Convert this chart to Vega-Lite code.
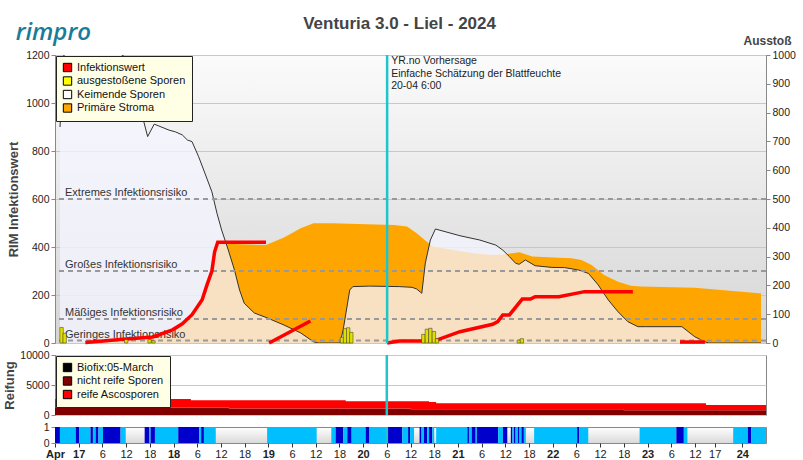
{
  "$schema": "https://vega.github.io/schema/vega-lite/v6.json",
  "background": "white",
  "padding": {"left": 3, "top": 14, "right": 5, "bottom": 0},
  "bounds": "flush",
  "spacing": 12,
  "config": {
    "font": "Liberation Sans",
    "view": {"stroke": "#888"},
    "axis": {"labelFontSize": 10.5, "labelColor": "#222", "domainColor": "#888", "tickColor": "#888", "titleFontSize": 13, "titleFontWeight": "bold", "titleColor": "#444", "gridColor": "#c8c8c8", "tickSize": 4, "format": "d"},
    "axisX": {"labelOverlap": false, "labelFlush": false}
  },
  "title": {"text": "Venturia 3.0 - Liel - 2024", "fontSize": 17, "fontWeight": "bold", "color": "#444", "anchor": "middle", "dy": 16},
  "resolve": {"scale": {"color": "independent"}, "legend": {"color": "independent"}},
  "datasets": {
    "keim": [
      {"h":0,"v":900},{"h":1,"v":1200},{"h":11,"v":1250},{"h":20.8,"v":1150},{"h":21.3,"v":936},{"h":22.5,"v":860},{"h":24.2,"v":912},{"h":28,"v":887},{"h":29.6,"v":880},{"h":31.4,"v":867},{"h":32.7,"v":846},{"h":33.9,"v":839},{"h":35.6,"v":776},{"h":37.2,"v":708},{"h":39,"v":630},{"h":40.3,"v":541},{"h":41.5,"v":471},{"h":43.2,"v":388},{"h":44.8,"v":304},{"h":46.1,"v":221},{"h":47.3,"v":166},{"h":49.9,"v":125},{"h":53.3,"v":104},{"h":57.5,"v":75},{"h":61.8,"v":42},{"h":65.1,"v":5},{"h":66.3,"v":0},{"h":71.9,"v":0},{"h":72.7,"v":54},{"h":74.4,"v":221},{"h":75.2,"v":235},{"h":79.5,"v":237},{"h":87.1,"v":235},{"h":90.4,"v":232},{"h":91.6,"v":225},{"h":92.6,"v":211},{"h":92.9,"v":207},{"h":93.8,"v":333},{"h":95.1,"v":429},{"h":96.4,"v":475},{"h":102.7,"v":447},{"h":107.8,"v":429},{"h":111.9,"v":408},{"h":113.7,"v":387},{"h":115.4,"v":360},{"h":117,"v":332},{"h":117.9,"v":328},{"h":119.5,"v":346},{"h":122,"v":322},{"h":126.3,"v":315},{"h":129.6,"v":314},{"h":133.2,"v":304},{"h":135.7,"v":290},{"h":138.2,"v":242},{"h":140.8,"v":179},{"h":143.3,"v":130},{"h":145.8,"v":89},{"h":148.4,"v":68},{"h":150.4,"v":68},{"h":159.7,"v":68},{"h":163,"v":26},{"h":165.6,"v":5},{"h":166.6,"v":0},{"h":180,"v":0}
    ],
    "stroma": [
      {"h":6,"v":0},{"h":6.5,"v":3},{"h":11.1,"v":8},{"h":15.4,"v":15},{"h":23.8,"v":25},{"h":28.9,"v":55},{"h":31.4,"v":80},{"h":33.9,"v":118},{"h":36.5,"v":180},{"h":37.7,"v":240},{"h":39,"v":300},{"h":39.7,"v":380},{"h":40.5,"v":415},{"h":52.9,"v":408},{"h":57.5,"v":440},{"h":61.8,"v":478},{"h":65.1,"v":499},{"h":70.1,"v":499},{"h":78.7,"v":495},{"h":85.8,"v":492},{"h":89.1,"v":485},{"h":91.6,"v":457},{"h":94.2,"v":422},{"h":95.9,"v":401},{"h":101,"v":387},{"h":106.1,"v":374},{"h":111.1,"v":367},{"h":114.4,"v":370},{"h":116.2,"v":374},{"h":118,"v":378},{"h":119.5,"v":370},{"h":121.3,"v":360},{"h":128.1,"v":355},{"h":131.4,"v":353},{"h":133.9,"v":346},{"h":136.5,"v":325},{"h":139.7,"v":283},{"h":143.3,"v":255},{"h":146.6,"v":239},{"h":149.1,"v":235},{"h":163,"v":230},{"h":179.5,"v":207},{"h":180,"v":207}
    ],
    "infekt": [
      {"seg":1,"h":6.5,"v":2},{"seg":1,"h":11.1,"v":8},{"seg":1,"h":15.4,"v":15},{"seg":1,"h":23.8,"v":25},{"seg":1,"h":28.9,"v":55},{"seg":1,"h":31.4,"v":80},{"seg":1,"h":33.9,"v":118},{"seg":1,"h":36.5,"v":180},{"seg":1,"h":37.7,"v":240},{"seg":1,"h":39,"v":300},{"seg":1,"h":39.7,"v":380},{"seg":1,"h":40.5,"v":420},{"seg":1,"h":52.9,"v":420},
      {"seg":2,"h":53.7,"v":0},{"seg":2,"h":64.3,"v":92},
      {"seg":3,"h":84,"v":0},{"seg":3,"h":87.1,"v":8},{"seg":3,"h":96,"v":8},{"seg":3,"h":102.7,"v":47},{"seg":3,"h":111.1,"v":78},{"seg":3,"h":112.4,"v":89},{"seg":3,"h":113.7,"v":117},{"seg":3,"h":115.4,"v":117},{"seg":3,"h":118.7,"v":183},{"seg":3,"h":120.8,"v":183},{"seg":3,"h":122,"v":193},{"seg":3,"h":128.1,"v":193},{"seg":3,"h":134.7,"v":214},{"seg":3,"h":147.1,"v":214},
      {"seg":4,"h":159.2,"v":4},{"seg":4,"h":165.6,"v":4}
    ],
    "sporen": [
      {"h":0.4,"v":54},{"h":1.2,"v":34},{"h":17,"v":12},{"h":23,"v":12},{"h":24,"v":8},{"h":72.4,"v":20},{"h":73.2,"v":50},{"h":74,"v":53},{"h":74.8,"v":37},{"h":93.3,"v":30},{"h":94.2,"v":48},{"h":95.1,"v":51},{"h":96,"v":40},{"h":96.8,"v":15},{"h":117.8,"v":10},{"h":118.6,"v":15}
    ],
    "risiko": [
      {"v":10,"label":"Geringes Infektionsrisiko"},{"v":100,"label":"Mäßiges Infektionsrisiko"},{"v":300,"label":"Großes Infektionsrisiko"},{"v":600,"label":"Extremes Infektionsrisiko"}
    ],
    "reifung": [
      {"h":0,"typ":"nicht reife Sporen","v":1250},{"h":34.4,"typ":"nicht reife Sporen","v":1250},{"h":44,"typ":"nicht reife Sporen","v":1080},{"h":73.6,"typ":"nicht reife Sporen","v":1080},{"h":90,"typ":"nicht reife Sporen","v":950},{"h":94.7,"typ":"nicht reife Sporen","v":950},{"h":96.5,"typ":"nicht reife Sporen","v":950},{"h":144,"typ":"nicht reife Sporen","v":780},{"h":164.8,"typ":"nicht reife Sporen","v":780},{"h":180,"typ":"nicht reife Sporen","v":780},
      {"h":0,"typ":"reife Ascosporen","v":1400},{"h":34.4,"typ":"reife Ascosporen","v":1200},{"h":44,"typ":"reife Ascosporen","v":1370},{"h":73.6,"typ":"reife Ascosporen","v":1220},{"h":90,"typ":"reife Ascosporen","v":1350},{"h":94.7,"typ":"reife Ascosporen","v":1200},{"h":96.5,"typ":"reife Ascosporen","v":1000},{"h":144,"typ":"reife Ascosporen","v":1170},{"h":164.8,"typ":"reife Ascosporen","v":890},{"h":180,"typ":"reife Ascosporen","v":890}
    ],
    "blatt": [
      {"a":0,"b":1.25,"c":"Regen"},{"a":1.25,"b":5.25,"c":"Blattnässe"},{"a":5.25,"b":6.1,"c":"Regen"},{"a":6.1,"b":9,"c":"Blattnässe"},{"a":9,"b":9.6,"c":"Regen"},{"a":9.6,"b":10.3,"c":"Blattnässe"},{"a":10.3,"b":11,"c":"Regen"},{"a":11,"b":12.15,"c":"Blattnässe"},{"a":12.15,"b":16.6,"c":"Regen"},{"a":16.6,"b":17.9,"c":"Blattnässe"},
      {"a":22.7,"b":23.8,"c":"Regen"},{"a":23.8,"b":24.2,"c":"Blattnässe"},{"a":24.2,"b":25.3,"c":"Regen"},{"a":25.3,"b":31.2,"c":"Blattnässe"},{"a":31.2,"b":36.5,"c":"Regen"},{"a":36.5,"b":37,"c":"Blattnässe"},{"a":37,"b":37.7,"c":"Regen"},{"a":37.7,"b":40.7,"c":"Blattnässe"},
      {"a":53.7,"b":66.25,"c":"Blattnässe"},{"a":69.95,"b":71.05,"c":"Blattnässe"},{"a":71.05,"b":73,"c":"Regen"},{"a":73,"b":74,"c":"Blattnässe"},{"a":74,"b":75.1,"c":"Regen"},{"a":75.1,"b":78.65,"c":"Blattnässe"},{"a":78.65,"b":79.5,"c":"Regen"},{"a":79.5,"b":84.3,"c":"Blattnässe"},{"a":84.3,"b":87.9,"c":"Regen"},{"a":87.9,"b":89.4,"c":"Blattnässe"},{"a":89.4,"b":89.9,"c":"Regen"},{"a":89.9,"b":90.9,"c":"Blattnässe"},
      {"a":92.3,"b":92.8,"c":"Regen"},{"a":92.8,"b":93.4,"c":"Blattnässe"},{"a":93.4,"b":94.25,"c":"Regen"},{"a":94.25,"b":94.7,"c":"Blattnässe"},{"a":94.7,"b":95.5,"c":"Regen"},{"a":95.5,"b":96,"c":"Blattnässe"},
      {"a":96.5,"b":104.4,"c":"Blattnässe"},{"a":104.4,"b":104.8,"c":"Regen"},{"a":104.8,"b":105.5,"c":"Blattnässe"},{"a":105.5,"b":106.5,"c":"Regen"},{"a":106.5,"b":106.8,"c":"Blattnässe"},{"a":106.8,"b":112.2,"c":"Regen"},{"a":112.2,"b":113.4,"c":"Blattnässe"},{"a":113.4,"b":114.5,"c":"Regen"},
      {"a":115.4,"b":115.8,"c":"Regen"},{"a":115.8,"b":116.2,"c":"Blattnässe"},{"a":116.2,"b":116.6,"c":"Regen"},{"a":116.6,"b":117.2,"c":"Blattnässe"},{"a":117.2,"b":117.6,"c":"Regen"},{"a":117.6,"b":118.1,"c":"Blattnässe"},{"a":118.1,"b":118.7,"c":"Regen"},{"a":118.7,"b":119.2,"c":"Blattnässe"},
      {"a":121.3,"b":132.2,"c":"Blattnässe"},{"a":132.2,"b":132.7,"c":"Regen"},{"a":132.7,"b":135,"c":"Blattnässe"},
      {"a":148,"b":157.3,"c":"Blattnässe"},{"a":157.3,"b":159.2,"c":"Regen"},{"a":159.2,"b":160.1,"c":"Blattnässe"},
      {"a":171.7,"b":175.4,"c":"Blattnässe"},{"a":175.4,"b":176.3,"c":"Regen"},{"a":176.3,"b":180,"c":"Blattnässe"}
    ]
  },
  "vconcat": [
    {
      "width": 711,
      "height": 288,
      "title": {"text": "rimpro", "anchor": "start", "frame": "bounds", "fontSize": 24, "font": "Open Sans", "fontWeight": 600, "fontStyle": "italic", "color": "#1b7c99", "offset": 0, "dy": 11, "dx": 8},
      "view": {"fill": {"gradient": "linear", "x1": 0, "y1": 0, "x2": 0, "y2": 1, "stops": [{"offset": 0, "color": "#fbfbfb"}, {"offset": 1, "color": "#d5d5d5"}]}, "stroke": "#888"},
      "layer": [
        {
          "layer": [
            {
              "data": {"name": "stroma"},
              "mark": {"type": "area", "color": "#ffa500"},
              "encoding": {
                "x": {"field": "h", "type": "quantitative", "scale": {"domain": [0, 180]}, "axis": null},
                "y": {"field": "v", "type": "quantitative", "scale": {"domain": [0, 1200]}, "axis": {"title": "RIM Infektionswert", "orient": "left", "values": [0,100,200,300,400,500,600,700,800,900,1000,1100,1200], "grid": true, "titlePadding": 5}}
              }
            },
            {
              "data": {"name": "keim"},
              "mark": {"type": "area", "color": "#f5f5ff", "opacity": 0.76, "clip": true},
              "encoding": {
                "x": {"field": "h", "type": "quantitative", "scale": {"domain": [0, 180]}, "axis": null},
                "y": {"field": "v", "type": "quantitative", "scale": {"domain": [0, 1200]}}
              }
            },
            {
              "data": {"name": "keim"},
              "mark": {"type": "line", "color": "#333", "strokeWidth": 1, "clip": true},
              "encoding": {
                "x": {"field": "h", "type": "quantitative", "scale": {"domain": [0, 180]}, "axis": null},
                "y": {"field": "v", "type": "quantitative", "scale": {"domain": [0, 1200]}}
              }
            },
            {
              "data": {"name": "risiko"},
              "mark": {"type": "rule", "color": "#999", "strokeWidth": 2, "strokeDash": [5, 4]},
              "encoding": {
                "y": {"field": "v", "type": "quantitative", "scale": {"domain": [0, 1200]}}
              }
            },
            {
              "data": {"name": "risiko"},
              "mark": {"type": "text", "align": "left", "baseline": "alphabetic", "dx": 5, "dy": -3, "fontSize": 11, "color": "#333"},
              "encoding": {
                "x": {"datum": 0, "scale": {"domain": [0, 180]}, "axis": null},
                "y": {"field": "v", "type": "quantitative", "scale": {"domain": [0, 1200]}},
                "text": {"field": "label"}
              }
            },
            {
              "data": {"name": "infekt"},
              "mark": {"type": "line", "color": "#ff0000", "strokeWidth": 3.5},
              "encoding": {
                "x": {"field": "h", "type": "quantitative", "scale": {"domain": [0, 180]}, "axis": null},
                "y": {"field": "v", "type": "quantitative", "scale": {"domain": [0, 1200]}},
                "detail": {"field": "seg"}
              }
            },
            {
              "data": {"values": [{"text": "YR.no Vorhersage\nEinfache Schätzung der Blattfeuchte\n20-04 6:00"}]},
              "mark": {"type": "text", "align": "left", "baseline": "top", "dx": 4, "dy": 1, "fontSize": 10.5, "lineHeight": 12.5, "lineBreak": "\n", "color": "#222"},
              "encoding": {
                "x": {"datum": 84, "scale": {"domain": [0, 180]}, "axis": null},
                "y": {"datum": 1200, "scale": {"domain": [0, 1200]}},
                "text": {"field": "text"}
              }
            },
            {
              "data": {"values": [{"s": "Infektionswert"}, {"s": "ausgestoßene Sporen"}, {"s": "Keimende Sporen"}, {"s": "Primäre Stroma"}]},
              "mark": {"type": "square", "clip": true, "size": 70, "opacity": 1, "stroke": "#000", "strokeWidth": 1},
              "encoding": {
                "x": {"datum": -50, "scale": {"domain": [0, 180]}, "axis": null},
                "y": {"datum": 0, "scale": {"domain": [0, 1200]}},
                "color": {"field": "s", "type": "nominal", "scale": {"domain": ["Infektionswert", "ausgestoßene Sporen", "Keimende Sporen", "Primäre Stroma"], "range": ["#ff0000", "#ffff00", "#ffffff", "#ffa500"]},
                  "legend": {"title": null, "orient": "top-left", "offset": 1, "fillColor": "#ffffe6", "strokeColor": "#222", "padding": 6, "labelFontSize": 11, "labelColor": "#111", "symbolType": "square", "symbolSize": 70, "symbolStrokeColor": "#000", "symbolStrokeWidth": 1, "rowPadding": 0.5, "labelOffset": 4}}
              }
            }
          ]
        },
        {
          "layer": [
            {
              "data": {"name": "sporen"},
              "mark": {"type": "bar", "size": 3.4, "color": "#e0e000", "stroke": "#333", "strokeWidth": 0.5},
              "encoding": {
                "x": {"field": "h", "type": "quantitative", "scale": {"domain": [0, 180]}, "axis": null},
                "y": {"field": "v", "type": "quantitative", "scale": {"domain": [0, 1000]}, "axis": {"orient": "right", "title": "Ausstoß", "values": [0,100,200,300,400,500,600,700,800,900,1000], "grid": false, "titleAngle": 0, "titleX": 25, "titleY": -8, "titleAlign": "right", "titleBaseline": "bottom", "titleFontSize": 12}}
              }
            },
            {
              "data": {"values": [{"h": 84}]},
              "mark": {"type": "rule", "color": "#20c5cc", "strokeWidth": 2.5},
              "encoding": {
                "x": {"field": "h", "type": "quantitative", "scale": {"domain": [0, 180]}, "axis": null}
              }
            }
          ]
        }
      ],
      "resolve": {"scale": {"y": "independent"}}
    },
    {
      "width": 711,
      "height": 60,
      "view": {"fill": "white", "stroke": "#888"},
      "layer": [
        {
          "data": {"name": "reifung"},
          "mark": {"type": "area", "interpolate": "step-after"},
          "encoding": {
            "x": {"field": "h", "type": "quantitative", "scale": {"domain": [0, 180]}, "axis": null},
            "y": {"field": "v", "type": "quantitative", "stack": "zero", "scale": {"domain": [0, 10000]}, "axis": {"title": "Reifung", "values": [0, 5000, 10000], "grid": true, "titlePadding": 3}},
            "order": {"field": "typ", "sort": "ascending"},
            "color": {"field": "typ", "type": "nominal", "scale": {"domain": ["Biofix:05-March", "nicht reife Sporen", "reife Ascosporen"], "range": ["#000000", "#800000", "#ff0000"]},
              "legend": {"title": null, "orient": "top-left", "offset": 1, "fillColor": "#ffffe6", "strokeColor": "#222", "padding": 6, "labelFontSize": 11, "labelColor": "#111", "symbolType": "square", "symbolSize": 70, "symbolStrokeColor": "#000", "symbolStrokeWidth": 1, "rowPadding": 0.5, "labelOffset": 4}}
          }
        },
        {
          "data": {"values": [{"h": 84}]},
          "mark": {"type": "rule", "color": "#20c5cc", "strokeWidth": 2.5},
          "encoding": {
            "x": {"field": "h", "type": "quantitative", "scale": {"domain": [0, 180]}, "axis": null}
          }
        }
      ]
    },
    {
      "width": 711,
      "height": 16,
      "view": {"fill": {"gradient": "linear", "x1": 0, "y1": 0, "x2": 0, "y2": 1, "stops": [{"offset": 0, "color": "#ffffff"}, {"offset": 1, "color": "#d8d8d8"}]}, "stroke": "#888"},
      "layer": [
        {
          "data": {"name": "blatt"},
          "mark": {"type": "rect"},
          "encoding": {
            "x": {"field": "a", "type": "quantitative", "scale": {"domain": [0, 180]},
              "axis": {"title": null, "grid": false, "domain": false, "labelOverlap": false, "labelFlush": false, "values": [0,6,12,18,24,30,36,42,48,54,60,66,72,78,84,90,96,102,108,114,120,126,132,138,144,150,156,162,167,174],
                "labelExpr": "datum.value == 0 ? 'Apr' : ((datum.value + 18) % 24 == 0 ? '' + (16 + floor((datum.value + 18) / 24)) : '' + ((datum.value + 18) % 24))",
                "labelFontWeight": {"condition": {"test": "datum.value == 0 || (datum.value + 18) % 24 == 0", "value": "bold"}, "value": "normal"},
                "labelFontSize": 11, "labelColor": "#222", "tickColor": "#333", "labelPadding": 1}},
            "x2": {"field": "b"},
            "y": {"datum": 0, "scale": {"domain": [0, 1]}, "axis": {"title": null, "values": [0, 1], "grid": false}},
            "y2": {"datum": 1},
            "color": {"field": "c", "type": "nominal", "scale": {"domain": ["Regen", "Blattnässe"], "range": ["#0000cd", "#00bfff"]}, "legend": null}
          }
        },
        {
          "data": {"values": [{"h": 84}]},
          "mark": {"type": "rule", "color": "#20c5cc", "strokeWidth": 2.5},
          "encoding": {
            "x": {"field": "h", "type": "quantitative", "scale": {"domain": [0, 180]},
              "axis": {"title": null, "grid": false, "domain": false, "labelOverlap": false, "labelFlush": false, "values": [0,6,12,18,24,30,36,42,48,54,60,66,72,78,84,90,96,102,108,114,120,126,132,138,144,150,156,162,167,174],
                "labelExpr": "datum.value == 0 ? 'Apr' : ((datum.value + 18) % 24 == 0 ? '' + (16 + floor((datum.value + 18) / 24)) : '' + ((datum.value + 18) % 24))",
                "labelFontWeight": {"condition": {"test": "datum.value == 0 || (datum.value + 18) % 24 == 0", "value": "bold"}, "value": "normal"},
                "labelFontSize": 11, "labelColor": "#222", "tickColor": "#333", "labelPadding": 1}}
          }
        }
      ]
    }
  ]
}
